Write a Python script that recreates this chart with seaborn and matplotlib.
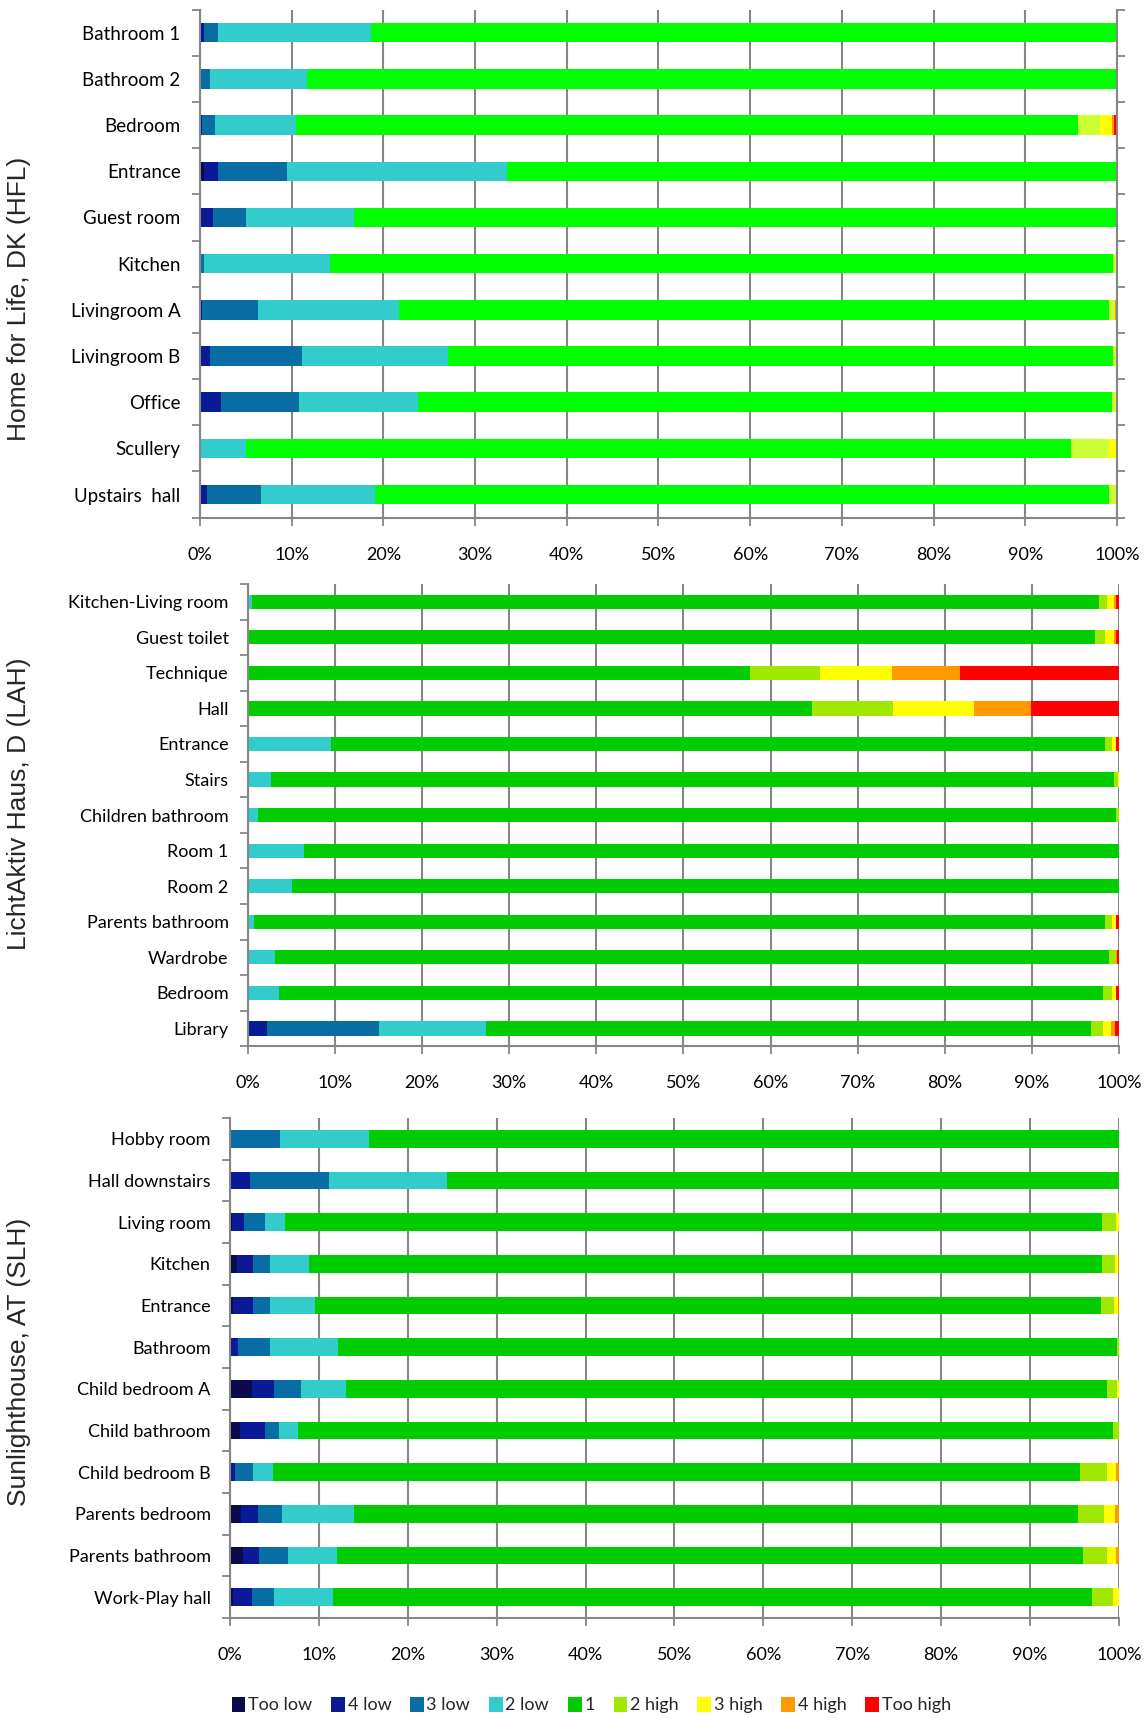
import numpy as np
import pandas as pd
import matplotlib
matplotlib.use("Agg")
import matplotlib.pyplot as plt
from matplotlib.patches import Patch
import seaborn as sns

# ---------------- data ----------------
LEVELS = ["Too low", "4 low", "3 low", "2 low", "1", "2 high", "3 high", "4 high", "Too high"]
X_TICKS = [0, 10, 20, 30, 40, 50, 60, 70, 80, 90, 100]

# Home for Life, DK (HFL)
HFL_ROOMS = ["Bathroom 1", "Bathroom 2", "Bedroom", "Entrance", "Guest room", "Kitchen",
             "Livingroom A", "Livingroom B", "Office", "Scullery", "Upstairs  hall"]
HFL_TOO_LOW = [0, 0, 0, 0.4, 0, 0, 0, 0, 0, 0, 0]
HFL_4_LOW = [0.4, 0, 0.25, 1.6, 1.4, 0, 0.25, 1.1, 2.3, 0, 0.8]
HFL_3_LOW = [1.6, 1.1, 1.35, 7.5, 3.6, 0.4, 6.1, 10.0, 8.5, 0, 5.8]
HFL_2_LOW = [16.6, 10.6, 8.9, 24.0, 11.8, 13.8, 15.3, 15.9, 13.0, 5.0, 12.5]
HFL_1 = [81.4, 88.3, 85.2, 66.5, 83.2, 85.4, 77.45, 72.6, 75.6, 90.0, 80.0]
HFL_2_HIGH = [0, 0, 2.4, 0, 0, 0.4, 0.7, 0.4, 0.6, 4.1, 0.9]
HFL_3_HIGH = [0, 0, 1.4, 0, 0, 0, 0, 0, 0, 0.9, 0]
HFL_4_HIGH = [0, 0, 0.2, 0, 0, 0, 0.2, 0, 0, 0, 0]
HFL_TOO_HIGH = [0, 0, 0.3, 0, 0, 0, 0, 0, 0, 0, 0]

# LichtAktiv Haus, D (LAH)
LAH_ROOMS = ["Kitchen-Living room", "Guest toilet", "Technique", "Hall", "Entrance", "Stairs",
             "Children bathroom", "Room 1", "Room 2", "Parents bathroom", "Wardrobe",
             "Bedroom", "Library"]
LAH_TOO_LOW = [0, 0, 0, 0, 0, 0, 0, 0, 0, 0, 0, 0, 0]
LAH_4_LOW = [0, 0, 0, 0, 0, 0, 0, 0, 0, 0, 0, 0, 2.2]
LAH_3_LOW = [0, 0, 0, 0, 0, 0, 0, 0.1, 0, 0, 0.15, 0, 12.8]
LAH_2_LOW = [0.5, 0, 0, 0, 9.5, 2.6, 1.2, 6.3, 5.1, 0.65, 2.95, 3.6, 12.3]
LAH_1 = [97.2, 97.2, 57.6, 64.7, 88.9, 96.8, 98.5, 93.6, 94.9, 97.75, 95.8, 94.6, 69.5]
LAH_2_HIGH = [0.9, 1.2, 8.1, 9.3, 0.8, 0.45, 0.3, 0, 0, 0.8, 0.8, 1.0, 1.4]
LAH_3_HIGH = [0.8, 1.0, 8.2, 9.3, 0.5, 0.15, 0, 0, 0, 0.5, 0, 0.5, 0.9]
LAH_4_HIGH = [0.3, 0.3, 7.8, 6.6, 0, 0, 0, 0, 0, 0, 0.1, 0, 0.5]
LAH_TOO_HIGH = [0.3, 0.3, 18.3, 10.1, 0.3, 0, 0, 0, 0, 0.3, 0.2, 0.3, 0.4]

# Sunlighthouse, AT (SLH)
SLH_ROOMS = ["Hobby room", "Hall downstairs", "Living room", "Kitchen", "Entrance", "Bathroom",
             "Child bedroom A", "Child bathroom", "Child bedroom B", "Parents bedroom",
             "Parents bathroom", "Work-Play hall"]
SLH_TOO_LOW = [0, 0, 0.25, 0.75, 0.35, 0, 2.45, 1.1, 0, 1.25, 1.45, 0.35]
SLH_4_LOW = [0, 2.3, 1.35, 1.8, 2.2, 0.95, 2.5, 2.85, 0.55, 1.9, 1.85, 2.1]
SLH_3_LOW = [5.6, 8.8, 2.3, 1.9, 2.0, 3.55, 3.0, 1.55, 2.0, 2.7, 3.2, 2.45]
SLH_2_LOW = [10.0, 13.3, 2.3, 4.4, 5.0, 7.6, 5.15, 2.2, 2.25, 8.1, 5.55, 6.65]
SLH_1 = [84.4, 75.6, 91.9, 89.2, 88.45, 87.7, 85.6, 91.65, 90.85, 81.4, 83.9, 85.4]
SLH_2_HIGH = [0, 0, 1.55, 1.55, 1.45, 0.2, 1.1, 0.65, 3.0, 3.0, 2.7, 2.35]
SLH_3_HIGH = [0, 0, 0.35, 0.3, 0.45, 0, 0.2, 0, 1.0, 1.15, 1.0, 0.7]
SLH_4_HIGH = [0, 0, 0, 0.1, 0.1, 0, 0, 0, 0.35, 0.5, 0.35, 0]
SLH_TOO_HIGH = [0, 0, 0, 0, 0, 0, 0, 0, 0, 0, 0, 0]

# ---------------- styles ----------------
COLORS = ["#0B0A4C", "#0A1A96", "#086DA3", "#33CCCC", "#00CC00", "#A0E800",
          "#FFFF00", "#FF9900", "#FF0000"]
COLORS_TOP = ["#0B0A4C", "#0A1A96", "#086DA3", "#33CCCC", "#00FF00", "#CCFF33",
              "#FFFF00", "#FF9900", "#FF0000"]
GRID = "#868686"

sns.set_theme(style="white")
plt.rcParams["font.family"] = ["Lato", "DejaVu Sans"]

fig = plt.figure(figsize=(11.46, 17.18), dpi=100)

panels = [
    dict(title="Home for Life, DK (HFL)", rooms=HFL_ROOMS,
         series=[HFL_TOO_LOW, HFL_4_LOW, HFL_3_LOW, HFL_2_LOW, HFL_1,
                 HFL_2_HIGH, HFL_3_HIGH, HFL_4_HIGH, HFL_TOO_HIGH],
         rect=[0.1745, 0.6987, 0.8002, 0.2957], colors=COLORS_TOP, bw=0.42,
         ylab_y=0.826, right_ticks=True, fs=13.5),
    dict(title="LichtAktiv Haus, D (LAH)", rooms=LAH_ROOMS,
         series=[LAH_TOO_LOW, LAH_4_LOW, LAH_3_LOW, LAH_2_LOW, LAH_1,
                 LAH_2_HIGH, LAH_3_HIGH, LAH_4_HIGH, LAH_TOO_HIGH],
         rect=[0.2164, 0.3910, 0.7600, 0.2691], colors=COLORS, bw=0.40,
         ylab_y=0.532, right_ticks=False, fs=13),
    dict(title="Sunlighthouse, AT (SLH)", rooms=SLH_ROOMS,
         series=[SLH_TOO_LOW, SLH_4_LOW, SLH_3_LOW, SLH_2_LOW, SLH_1,
                 SLH_2_HIGH, SLH_3_HIGH, SLH_4_HIGH, SLH_TOO_HIGH],
         rect=[0.2007, 0.0582, 0.7757, 0.2910], colors=COLORS, bw=0.42,
         ylab_y=0.207, right_ticks=False, fs=13),
]

for p in panels:
    ax = fig.add_axes(p["rect"])
    df = pd.DataFrame({"room": p["rooms"]})
    cum = np.zeros(len(p["rooms"]))
    for lvl, vals in zip(LEVELS, p["series"]):
        cum = cum + np.asarray(vals, dtype=float)
        df[lvl] = cum
    # draw cumulative totals from the last level to the first so each sits on top
    for lvl, col in reversed(list(zip(LEVELS, p["colors"]))):
        sns.barplot(data=df, x=lvl, y="room", orient="h", order=p["rooms"],
                    color=col, saturation=1, width=p["bw"], errorbar=None,
                    linewidth=0, ax=ax)
    n = len(p["rooms"])
    ax.set_xlim(0, 100)
    ax.set_ylim(n - 0.5, -0.5)
    ax.set_xlabel("")
    ax.set_ylabel("")
    ax.set_xticks(X_TICKS)
    ax.set_xticklabels([f"{v}%" for v in X_TICKS], fontsize=13)
    ax.set_yticks(range(n))
    ax.set_yticklabels(p["rooms"], fontsize=p["fs"])
    ax.set_yticks(np.arange(-0.5, n, 1.0), minor=True)
    ax.grid(axis="x", color=GRID, linewidth=1.5)
    ax.grid(axis="y", visible=False)
    ax.set_axisbelow(True)
    ax.spines["top"].set_visible(False)
    ax.spines["right"].set_visible(p["right_ticks"])
    for s in ["left", "bottom", "right"]:
        ax.spines[s].set_color(GRID)
        ax.spines[s].set_linewidth(1.5)
    ax.tick_params(axis="y", which="major", length=0, pad=14, labelcolor="black")
    ax.tick_params(axis="y", which="minor", length=6, width=1.3, color=GRID,
                   left=True, right=p["right_ticks"], direction="out")
    ax.tick_params(axis="x", which="major", length=6, width=1.3, color=GRID,
                   bottom=True, direction="out", pad=15, labelcolor="black")
    fig.text(0.017, p["ylab_y"], p["title"], rotation=90, va="center", ha="center",
             fontsize=19, family=["Liberation Sans", "DejaVu Sans"])

handles = [Patch(facecolor=c, edgecolor="none", label=l) for l, c in zip(LEVELS, COLORS)]
fig.legend(handles=handles, loc="center", bbox_to_anchor=(0.516, 0.0075), ncol=9,
           frameon=False, fontsize=13, handlelength=0.75, handleheight=0.9,
           handletextpad=0.15, columnspacing=1.05)

fig.savefig("out.png", dpi=100, facecolor="white")
